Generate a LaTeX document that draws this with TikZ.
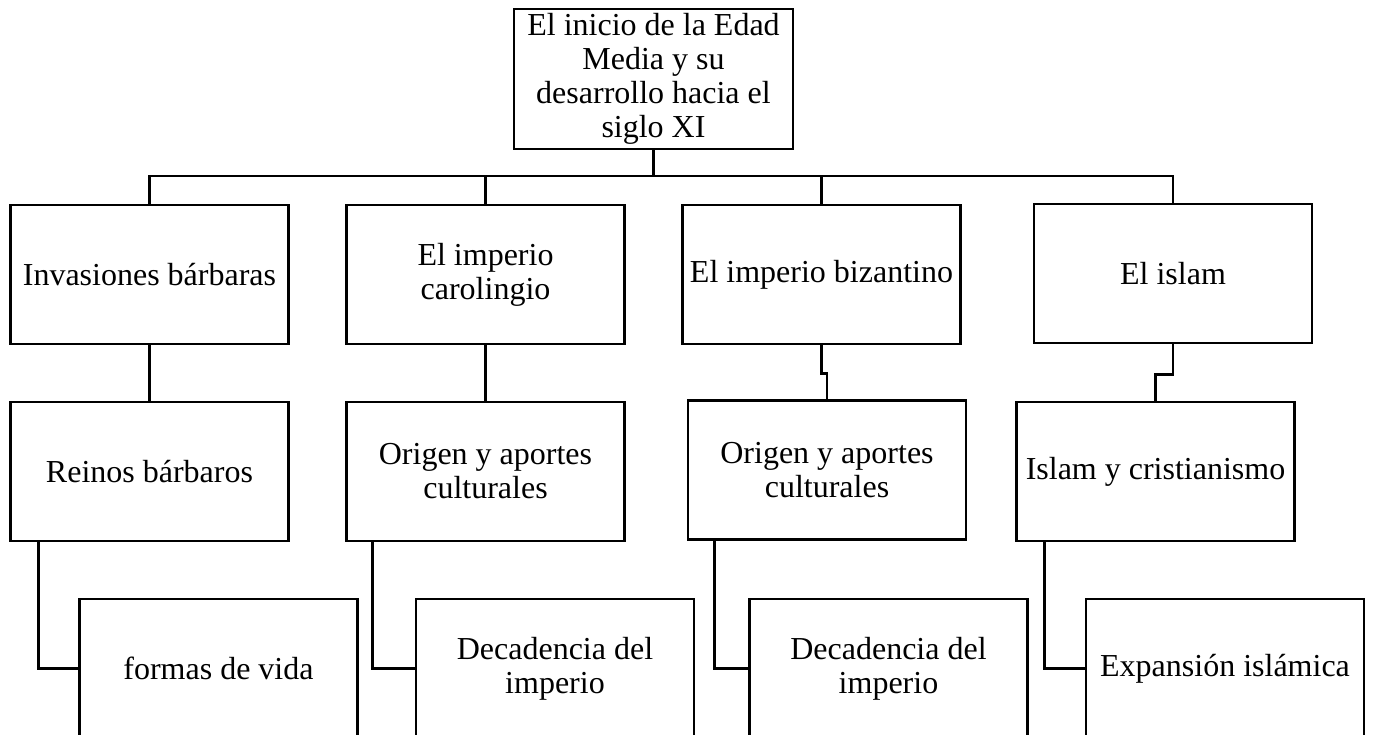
\documentclass[tikz,border=0pt]{standalone}
\usepackage{fontspec}
\setmainfont{Liberation Serif}
\begin{document}
\begin{tikzpicture}[x=1pt,y=-1pt,
  box/.style={draw=black, line width=2.8pt, fill=white, minimum width=278pt, minimum height=139pt,
    inner sep=0pt, align=center, font=\fontsize{32}{34}\selectfont},
  conn/.style={draw=black, line width=2.8pt, line join=miter}]
\useasboundingbox (0,0) rectangle (1375,735);
\clip (0,0) rectangle (1375,735);
\fill[white] (0,0) rectangle (1375,735);
% top
\node[box, minimum width=279pt, minimum height=140pt] (top) at (653.5,79) {El inicio de la Edad\\Media y su\\desarrollo hacia el\\siglo XI};
% level 1
\node[box] (a1) at (149.5,274.5) {Invasiones bárbaras};
\node[box] (a2) at (485.5,274.5) {El imperio\\carolingio};
\node[box] (a3) at (821.5,274.5) {El imperio bizantino};
\node[box] (a4) at (1173,273.5) {El islam};
% level 2
\node[box] (b1) at (149.5,471.5) {Reinos bárbaros};
\node[box] (b2) at (485.5,471.5) {Origen y aportes\\culturales};
\node[box] (b3) at (827,470) {Origen y aportes\\culturales};
\node[box] (b4) at (1155.5,471.5) {Islam y cristianismo};
% level 3
\node[box] (c1) at (218.5,668.5) {formas de vida};
\node[box] (c2) at (555,668.5) {Decadencia del\\imperio};
\node[box] (c3) at (888.5,668.5) {Decadencia del\\imperio};
\node[box] (c4) at (1225,668.5) {Expansión islámica};
% connectors
\coordinate (bus) at (653.5,176);
\draw[conn] (top.south) -- (bus);
\draw[conn] (a1.north) -- (a1.north |- bus) -- (a4.north |- bus) -- (a4.north);
\draw[conn] (a2.north) -- (a2.north |- bus);
\draw[conn] (a3.north) -- (a3.north |- bus);
\draw[conn] (a1.south) -- (b1.north);
\draw[conn] (a2.south) -- (b2.north);
\draw[conn] (a3.south) -- ++(0,28) -| (b3.north);
\draw[conn] (a4.south) -- ++(0,30) -| (b4.north);
\draw[conn] ([xshift=29pt]b1.south west) |- (c1.west);
\draw[conn] ([xshift=27pt]b2.south west) |- (c2.west);
\draw[conn] ([xshift=28pt]b3.south west) |- (c3.west);
\draw[conn] ([xshift=29pt]b4.south west) |- (c4.west);
\end{tikzpicture}
\end{document}
